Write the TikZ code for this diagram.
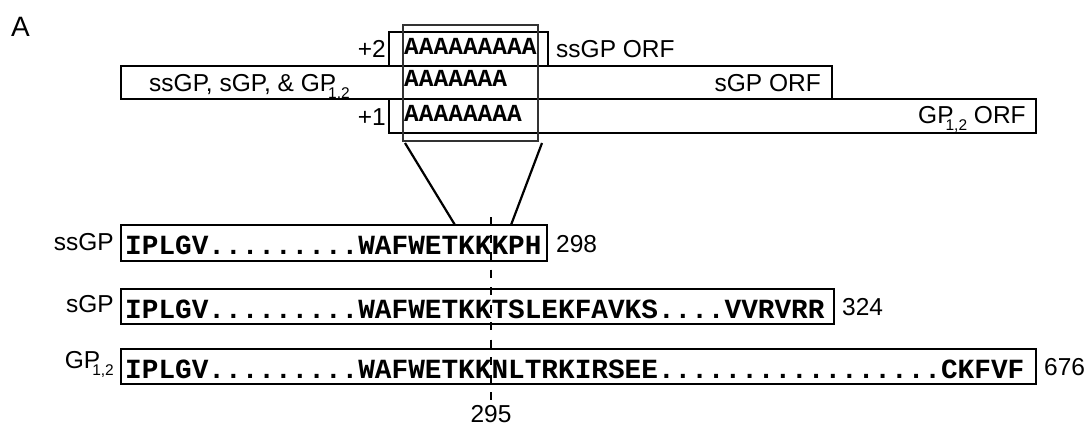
\documentclass[tikz,border=0pt]{standalone}
\usepackage{fontspec}
\setmainfont{Liberation Sans}
\newfontfamily\seqfont{Liberation Mono}
\newcommand\gpsub{GP\kern-8pt\raisebox{-7pt}{\fontsize{15.5}{16}\selectfont 1,2}}
\begin{document}
\begin{tikzpicture}[x=1pt,y=-1pt,
  thickbox/.style={draw, line width=2.8pt, inner sep=0pt, outer sep=0pt, anchor=north west},
  thinbox/.style={draw=black!80, line width=1.2pt, inner sep=0pt, outer sep=0pt, anchor=north west},
  lbl/.style={font=\fontsize{24.5}{26}\selectfont, inner sep=0pt},
  seq/.style={font=\seqfont\bfseries\fontsize{27.75}{28}\selectfont, inner sep=0pt, anchor=base west},
  aseq/.style={font=\seqfont\bfseries\fontsize{24.5}{26}\selectfont, inner sep=0pt, anchor=base west},
  zoomline/.style={line width=2.2pt},
  markline/.style={line width=2pt, dash pattern=on 8pt off 9.5pt}]
\useasboundingbox (0,0) rectangle (1089,425);
% panel letter
\node[font=\fontsize{28}{30}\selectfont, inner sep=0pt, anchor=base west] (panel) at (11,37) {A};
% ORF boxes
\node[thickbox, minimum width=159pt, minimum height=34pt] (orftwo) at (389,32) {};
\node[thickbox, minimum width=711pt, minimum height=33pt] (orfzero) at (121,66) {};
\node[thickbox, minimum width=647pt, minimum height=34pt] (orfone) at (389,99) {};
% ORF labels
\node[lbl, anchor=base east] (ptwo) at (386,58) {+2};
\node[lbl, anchor=base east] (pone) at (386,125) {+1};
\node[lbl, anchor=base west] (ssorf) at (556,58) {ssGP ORF};
\node[lbl, anchor=base west] (alllbl) at (149,92) {ssGP, sGP, \& \gpsub};
\node[lbl, anchor=base east] (sorf) at (821,92) {sGP ORF};
\node[lbl, anchor=base west] (gporf) at (918,124) {\gpsub{} ORF};
% A stretches
\node[aseq] (atwo) at (404,55) {AAAAAAAAA};
\node[aseq] (azero) at (404,87) {AAAAAAA};
\node[aseq] (aone) at (404,122) {AAAAAAAA};
% highlight rectangle
\node[thinbox, minimum width=135pt, minimum height=116pt] (hl) at (403,25) {};
% sequence boxes
\node[thickbox, minimum width=426pt, minimum height=36pt] (ssbox) at (121,225) {};
\node[thickbox, minimum width=713pt, minimum height=35pt] (sbox) at (121,289) {};
\node[thickbox, minimum width=915pt, minimum height=35pt] (gpbox) at (121,349) {};
% sequences
\node[seq] (ssseq) at (125,254) {IPLGV.........WAFWETKKKPH};
\node[seq] (sseq) at (125,318) {IPLGV.........WAFWETKKTSLEKFAVKS....VVRVRR};
\node[seq] (gpseq) at (125,378) {IPLGV.........WAFWETKKNLTRKIRSEE.................CKFVF};
% left labels
\node[lbl, anchor=base east] (sslbl) at (114,250) {ssGP};
\node[lbl, anchor=base east] (slbl) at (114,312) {sGP};
\node[lbl, anchor=base east] (gplbl) at (114,368) {\gpsub};
% right numbers
\node[lbl, anchor=base west] (nss) at (556,252) {298};
\node[lbl, anchor=base west] (ns) at (842,315) {324};
\node[lbl, anchor=base west] (ngp) at (1044,375) {676};
\node[lbl, anchor=base] (npos) at (491,422) {295};
% zoom lines
\coordinate (zl) at (405,143);
\coordinate (zr) at (542,143);
\coordinate (zlend) at (455,225);
\coordinate (zrend) at (511,225);
\draw[zoomline] (zl) -- (zlend);
\draw[zoomline] (zr) -- (zrend);
% position marker
\coordinate (dtop) at (491,217);
\coordinate (dbot) at (491,400);
\draw[markline] (dtop) -- (dbot);
\end{tikzpicture}
\end{document}
